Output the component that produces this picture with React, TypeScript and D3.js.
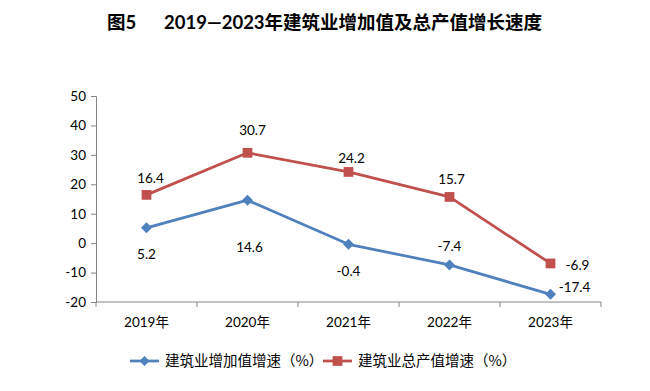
import * as d3 from "d3";
import { useEffect, useRef } from "react";

// chart data
const years = ["2019年", "2020年", "2021年", "2022年", "2023年"];
const addedValue = [5.2, 14.6, -0.4, -7.4, -17.4];
const outputValue = [16.4, 30.7, 24.2, 15.7, -6.9];
const yTicks = [-20, -10, 0, 10, 20, 30, 40, 50];
const seriesNames = ["建筑业增加值增速（%）", "建筑业总产值增速（%）"];

// label offsets from each point (dx, dy), as Excel placed them
const blueLabelOffsets: [number, number][] = [
  [0, 26],
  [2, 47],
  [0, 27],
  [0, -19],
  [24, -7],
];
const redLabelOffsets: [number, number][] = [
  [4, -17],
  [5, -23],
  [3, -14],
  [2, -18],
  [27, 2],
];

const fontNum = "Lato, 'Noto Sans CJK SC', sans-serif";

export default function App() {
  const ref = useRef<SVGSVGElement>(null);

  useEffect(() => {
    const svg = d3.select(ref.current);
    svg.selectAll("*").remove();

    const margin = { left: 96, top: 96, right: 39, bottom: 89 };
    const width = 650;
    const height = 391;

    const x = d3
      .scaleBand()
      .domain(years)
      .range([margin.left, width - margin.right - 10]);
    const y = d3
      .scaleLinear()
      .domain([-20, 50])
      .range([height - margin.bottom, margin.top]);

    const axisColor = "#868686";

    // title
    const title = svg
      .append("text")
      .attr("x", 107)
      .attr("y", 29)
      .attr("font-family", "Lato, 'Noto Sans CJK SC', sans-serif")
      .attr("font-weight", "bold")
      .attr("font-size", 18.5)
      .attr("fill", "#000");
    title.append("tspan").text("图5");
    title.append("tspan").attr("x", 164).text("2019—2023年建筑业增加值及总产值增长速度");

    // y axis
    const yAxis = d3
      .axisLeft(y)
      .tickValues(yTicks)
      .tickSize(5)
      .tickPadding(5)
      .tickFormat((d) => String(d));
    const gy = svg
      .append("g")
      .attr("transform", `translate(${margin.left},0)`)
      .call(yAxis);
    gy.select(".domain").attr("stroke", axisColor);
    gy.selectAll(".tick line").attr("stroke", axisColor);
    gy.selectAll(".tick text")
      .attr("font-family", fontNum)
      .attr("font-size", 13.5)
      .attr("fill", "#000");

    // x axis
    const gx = svg
      .append("g")
      .attr("transform", `translate(0,${y(-20)})`);
    gx.append("line")
      .attr("x1", x.range()[0])
      .attr("x2", x.range()[1])
      .attr("stroke", axisColor);
    const edges = [...years.map((d) => x(d)!), x.range()[1]];
    gx.selectAll("line.tk")
      .data(edges)
      .enter()
      .append("line")
      .attr("class", "tk")
      .attr("x1", (d) => d)
      .attr("x2", (d) => d)
      .attr("y1", 0)
      .attr("y2", 5)
      .attr("stroke", axisColor);
    gx.selectAll("text")
      .data(years)
      .enter()
      .append("text")
      .attr("x", (d) => x(d)! + x.bandwidth() / 2)
      .attr("y", 25)
      .attr("text-anchor", "middle")
      .attr("font-family", fontNum)
      .attr("font-size", 13.5)
      .attr("fill", "#000")
      .text((d) => d);

    const cx = (i: number) => x(years[i])! + x.bandwidth() / 2;
    const line = d3
      .line<number>()
      .x((_, i) => cx(i))
      .y((d) => y(d));

    const drawSeries = (
      values: number[],
      color: string,
      marker: "diamond" | "square",
      offsets: [number, number][]
    ) => {
      svg
        .append("path")
        .datum(values)
        .attr("fill", "none")
        .attr("stroke", color)
        .attr("stroke-width", 2.75)
        .attr("stroke-linejoin", "round")
        .attr("d", line);
      const sym = d3
        .symbol()
        .type(d3.symbolSquare)
        .size(marker === "diamond" ? 60 : 95);
      svg
        .append("g")
        .selectAll("path")
        .data(values)
        .enter()
        .append("path")
        .attr("d", sym as any)
        .attr("transform", (d, i) =>
          marker === "diamond"
            ? `translate(${cx(i)},${y(d)}) rotate(45)`
            : `translate(${cx(i)},${y(d)})`
        )
        .attr("fill", color);
      svg
        .append("g")
        .selectAll("text")
        .data(values)
        .enter()
        .append("text")
        .attr("x", (_, i) => cx(i) + offsets[i][0])
        .attr("y", (d, i) => y(d) + offsets[i][1])
        .attr("dy", "0.35em")
        .attr("text-anchor", "middle")
        .attr("font-family", fontNum)
        .attr("font-size", 13.5)
        .attr("fill", "#000")
        .text((d) => d.toFixed(1));
    };

    drawSeries(outputValue, "#C0504D", "square", redLabelOffsets);
    drawSeries(addedValue, "#4F81BD", "diamond", blueLabelOffsets);

    // legend
    const legend = svg.append("g").attr("transform", "translate(0,361)");
    const items = [
      { name: seriesNames[0], color: "#4F81BD", marker: "diamond", x0: 130 },
      { name: seriesNames[1], color: "#C0504D", marker: "square", x0: 323 },
    ];
    items.forEach((it) => {
      legend
        .append("line")
        .attr("x1", it.x0)
        .attr("x2", it.x0 + 29)
        .attr("stroke", it.color)
        .attr("stroke-width", 2.75);
      const sym = d3
        .symbol()
        .type(d3.symbolSquare)
        .size(it.marker === "diamond" ? 50 : 95);
      legend
        .append("path")
        .attr("d", sym as any)
        .attr(
          "transform",
          `translate(${it.x0 + 14.5},0)` + (it.marker === "diamond" ? " rotate(45)" : "")
        )
        .attr("fill", it.color);
      legend
        .append("text")
        .attr("x", it.x0 + 35)
        .attr("dy", "0.35em")
        .attr("font-family", "'Noto Sans CJK SC', sans-serif")
        .attr("font-size", 14.5)
        .attr("fill", "#000")
        .text(it.name);
    });
  }, []);

  return (
    <svg
      ref={ref}
      width={650}
      height={391}
      style={{ position: "absolute", left: 0, top: 0, background: "#fff" }}
    />
  );
}
